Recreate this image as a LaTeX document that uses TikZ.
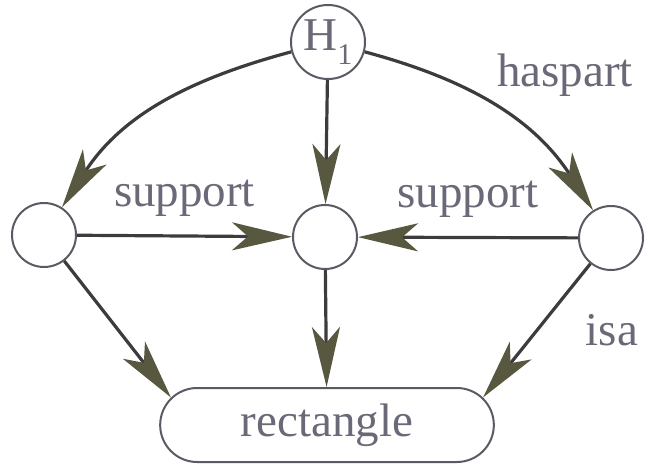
\documentclass[tikz,border=0pt]{standalone}
\usepackage{fontspec}
\setmainfont{Liberation Serif}
\usetikzlibrary{arrows.meta, positioning, shapes.misc}

\definecolor{edgegrey}{RGB}{60,60,60}
\definecolor{tipolive}{RGB}{88,88,64}
\definecolor{textgrey}{RGB}{105,105,120}
\definecolor{ringgrey}{RGB}{90,90,100}

\begin{document}
\begin{tikzpicture}[
    x=0.5pt, y=0.5pt,
    every node/.style={font=\fontsize{23.5}{26}\selectfont, text=textgrey},
    ent/.style={draw=ringgrey, line width=1pt, circle, minimum size=32pt, inner sep=0pt},
    top/.style={draw=ringgrey, line width=1pt, circle, minimum size=37pt, inner sep=0pt},
    cls/.style={draw=ringgrey, line width=1pt, rounded rectangle, minimum width=173.5pt, minimum height=37pt},
    arrow/.style={draw=edgegrey, line width=1.6pt,
      -{Stealth[length=30pt, width=14pt, inset=8pt, fill=tipolive, color=tipolive]}},
    lbl/.style={inner sep=2pt}
]
\useasboundingbox (0,0) rectangle (657,467);

% Noeuds
\node[top] (H) at (328,425) {H\raisebox{-0.3em}{\fontsize{15}{15}\selectfont 1}};
\node[ent] (L) at (44,232) {};
\node[ent] (M) at (325,230) {};
\node[ent] (R) at (611,229) {};
\node[cls] (rect) at (327,42) {rectangle};

% haspart
\draw[arrow] (H) to[out=195, in=57] (L);
\draw[arrow] (H) to[out=-15, in=123] (R);
\draw[arrow] (H) -- (M);
\node[lbl] (hp) at (565,392) {haspart};

% support
\draw[arrow] (L) -- node[lbl, above=7pt] {support} (M);
\draw[arrow] (R) -- node[lbl, above=7pt] {support} (M);

% isa
\draw[arrow] (M) -- (rect);
\draw[arrow] (L) -- (rect.170);
\draw[arrow] (R) -- (rect.10);
\node[lbl] (isa) at (612,137) {isa};

\end{tikzpicture}
\end{document}
